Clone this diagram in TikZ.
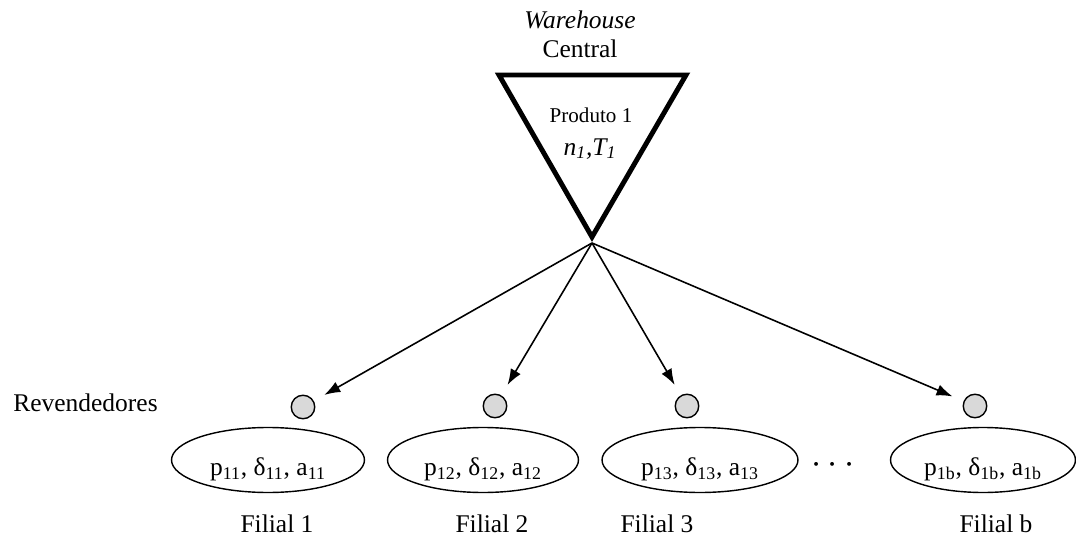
\documentclass[tikz,border=0pt]{standalone}
\usepackage{fontspec}
\setmainfont{Liberation Serif}
\usetikzlibrary{arrows.meta, shapes.geometric}
\definecolor{shopfill}{HTML}{D9D9D9}

\begin{document}
\begin{tikzpicture}[
      x=0.02cm, y=-0.02cm,
      font=\fontsize{14.5}{17}\selectfont,
      depot/.style={draw, line width=2.8pt, line join=miter},
      shop/.style={circle, draw, line width=0.8pt, fill=shopfill,
                   minimum size=0.47cm, inner sep=0pt},
      branch/.style={ellipse, draw, line width=0.8pt, inner sep=0pt,
                     minimum width=3.86cm, minimum height=1.3cm,
                     text height=0.7cm, text depth=0.06cm},
      lbl/.style={anchor=base, inner sep=0pt},
      arr/.style={-{Latex[length=3.2mm, width=2.3mm]}, line width=0.9pt, shorten >=0.24cm}
    ]
      \useasboundingbox (0,0) rectangle (1076,537);

      % central warehouse
      \node[lbl] (wh) at (580,29) {\textit{Warehouse}};
      \node[lbl] (central) at (580,58) {Central};
      \draw[depot] (499,75) -- (686,75) -- (592,237) -- cycle;
      \coordinate (apex) at (592,243);
      \node[lbl, font=\fontsize{12}{14}\selectfont] (prod) at (591,123) {Produto 1};
      \node[lbl] (param) at (590,155) {\textit{n\textsubscript{1},T\textsubscript{1}}};

      % retailers
      \node[lbl, anchor=base west] (rev) at (13,411) {Revendedores};
      \node[shop] (r1) at (303,407) {};
      \node[shop] (r2) at (495,406) {};
      \node[shop] (r3) at (687,406) {};
      \node[shop] (rb) at (975,406) {};

      % branches
      \node[branch] (f1) at (268,460) {p\textsubscript{11}, δ\textsubscript{11}, a\textsubscript{11}};
      \node[branch, minimum width=3.82cm] (f2) at (483,460) {p\textsubscript{12}, δ\textsubscript{12}, a\textsubscript{12}};
      \node[branch, minimum width=3.92cm] (f3) at (700,460) {p\textsubscript{13}, δ\textsubscript{13}, a\textsubscript{13}};
      \node[font=\fontsize{20}{24}\selectfont] (dots) at (833,465) {$\cdots$};
      \node[branch, minimum width=3.7cm] (fb) at (983,460) {p\textsubscript{1b}, δ\textsubscript{1b}, a\textsubscript{1b}};

      \node[lbl] (n1) at (277,532) {Filial 1};
      \node[lbl] (n2) at (492,532) {Filial 2};
      \node[lbl] (n3) at (657,532) {Filial 3};
      \node[lbl] (nb) at (996,532) {Filial b};

      \draw[arr] (apex) -- (r1);
      \draw[arr] (apex) -- (r2);
      \draw[arr] (apex) -- (r3);
      \draw[arr] (apex) -- (rb);
    \end{tikzpicture}
\end{document}
